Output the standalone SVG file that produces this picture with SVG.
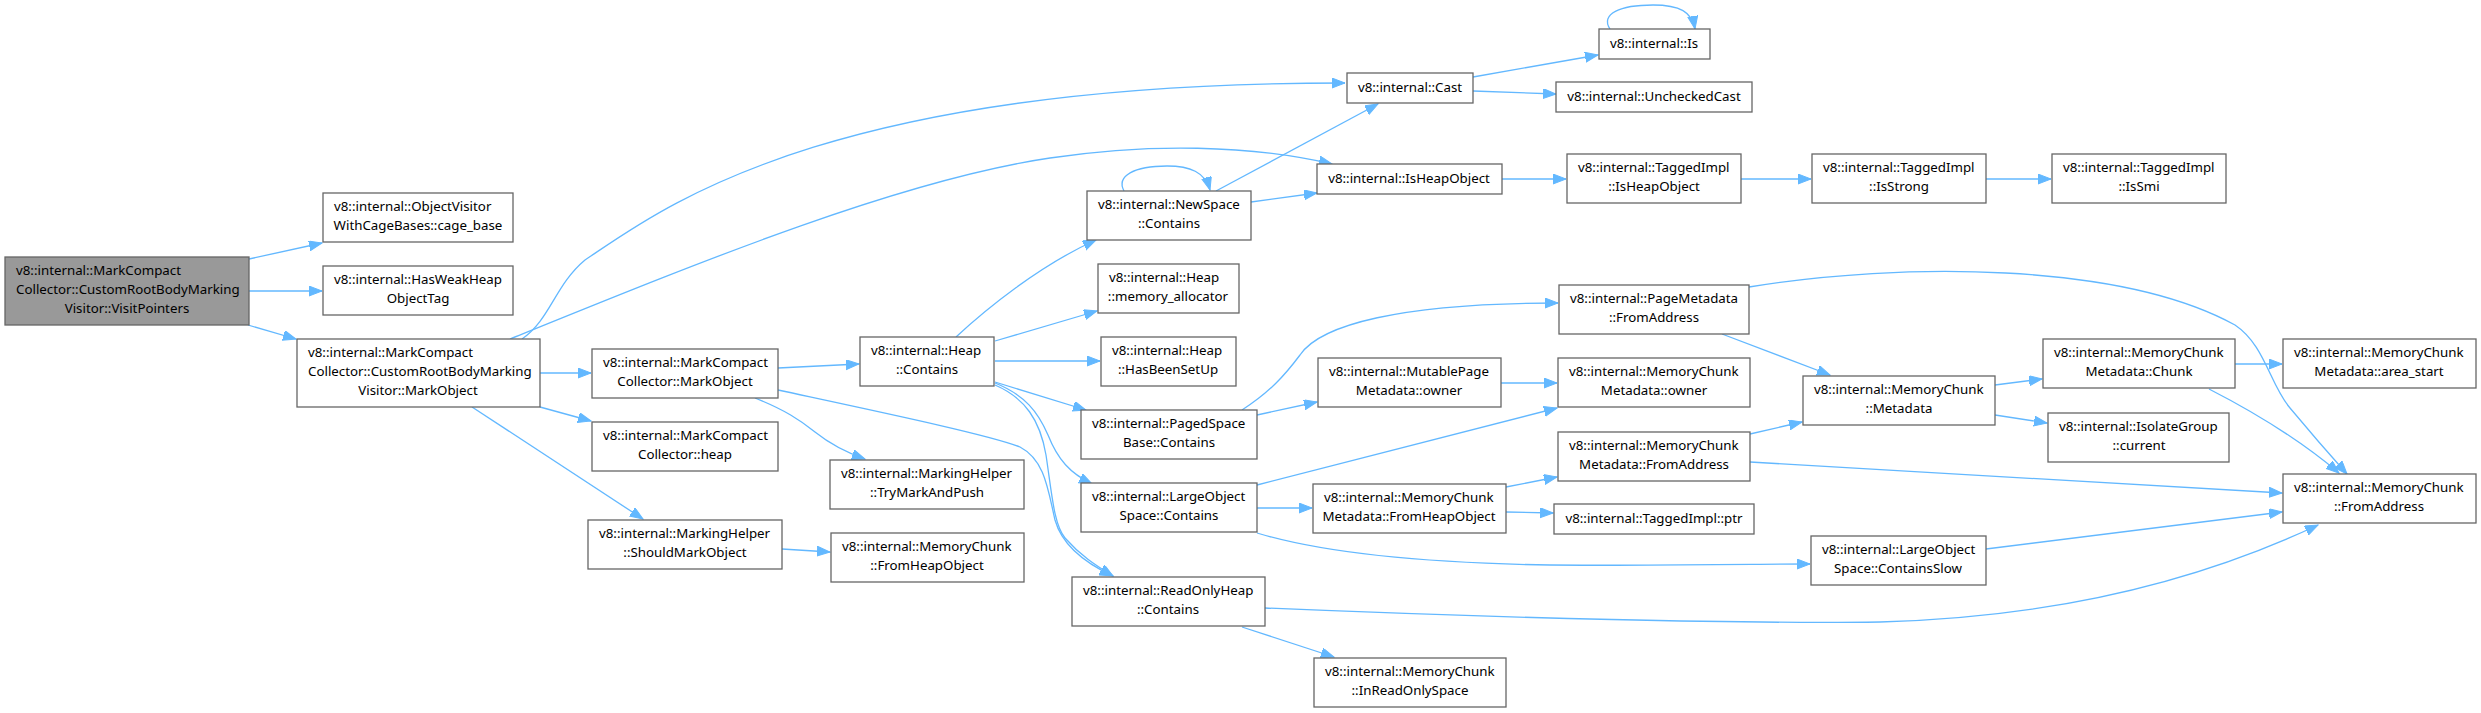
<svg xmlns="http://www.w3.org/2000/svg" width="2481" height="713" viewBox="0 0 2481 713">
<style>
.n rect{fill:#ffffff;stroke:#666666;stroke-width:1.3}
.root rect{fill:#999999;stroke:#666666;stroke-width:1.3}
text{font-family:"Noto Sans","DejaVu Sans",sans-serif;font-size:13.3px;fill:#000}
.s{text-anchor:start}
.m{text-anchor:middle}
#edges path{fill:none;stroke:#63b8ff;stroke-width:1.3;marker-end:url(#ah)}
</style>
<defs>
<marker id="ah" markerUnits="userSpaceOnUse" markerWidth="14" markerHeight="11" refX="13" refY="5" orient="auto">
<path d="M0,0 L13,5 L0,10 z" fill="#63b8ff" stroke="#63b8ff" stroke-width="1"/>
</marker>
</defs>
<rect width="2481" height="713" fill="#ffffff"/>
<g id="edges">
<path d="M249,259 L322,243"/>
<path d="M249,291 L322,291"/>
<path d="M248,325 L296,339"/>
<path d="M522,339 C550,320 555,285 585,260 C660,210 820,83 1345,83"/>
<path d="M510,339 C700,262 900,180 1050,158 C1150,143 1250,145 1332,164"/>
<path d="M540,373 L591,373"/>
<path d="M540,407 L591,421"/>
<path d="M472,407 L643,519"/>
<path d="M778,368 L859,364"/>
<path d="M755,398 C785,410 800,420 815,432 C830,444 845,452 865,459"/>
<path d="M778,390 C880,412 990,435 1020,447 C1045,460 1048,490 1055,520 C1062,545 1085,563 1113,576"/>
<path d="M782,549 L830,552"/>
<path d="M956,337 C985,310 1040,265 1096,240"/>
<path d="M995,341 L1097,311"/>
<path d="M995,361 L1100,361"/>
<path d="M995,382 L1086,410"/>
<path d="M995,383 C1025,395 1038,412 1048,435 C1058,460 1070,473 1092,484"/>
<path d="M995,385 C1025,398 1040,420 1046,455 C1052,495 1054,525 1065,538 C1080,555 1095,565 1113,576"/>
<path d="M1124,191 C1116,176 1134,166 1167,166 C1190,166 1205,172 1210,190"/>
<path d="M1216,191 L1378,104"/>
<path d="M1251,202 L1317,193"/>
<path d="M1473,77 L1598,55"/>
<path d="M1473,91 L1556,94"/>
<path d="M1610,29 C1600,14 1620,5 1653,5 C1680,5 1692,12 1695,29"/>
<path d="M1502,179 L1566,179"/>
<path d="M1741,179 L1811,179"/>
<path d="M1986,179 L2051,179"/>
<path d="M1242,410 C1270,392 1285,375 1300,355 C1320,325 1400,303 1558,303"/>
<path d="M1257,415 L1317,402"/>
<path d="M1501,383 L1557,383"/>
<path d="M1257,485 L1557,408"/>
<path d="M1257,508 L1312,508"/>
<path d="M1257,533 C1320,552 1420,563 1550,565 C1680,566 1760,564 1810,564"/>
<path d="M1506,487 L1557,477"/>
<path d="M1506,512 L1553,513"/>
<path d="M1750,434 L1802,422"/>
<path d="M1750,462 L2282,493"/>
<path d="M1722,334 L1830,375"/>
<path d="M1749,287 C1900,262 2120,262 2235,325 C2265,345 2270,385 2290,408 C2310,432 2330,455 2347,474"/>
<path d="M1995,385 L2042,379"/>
<path d="M1995,415 L2047,423"/>
<path d="M2235,364 L2282,364"/>
<path d="M2209,389 C2250,410 2300,440 2339,473"/>
<path d="M1986,549 L2282,512"/>
<path d="M1265,608 C1500,618 1750,624 1880,622 C2030,618 2180,590 2318,525"/>
<path d="M1242,627 L1334,657"/>
</g>
<g id="n_root" class="root"><rect x="5" y="257" width="244" height="68"/><text class="s" x="16" y="275">v8::internal::MarkCompact</text><text class="s" x="16" y="294">Collector::CustomRootBodyMarking</text><text class="m" x="127" y="313">Visitor::VisitPointers</text></g>
<g id="n_cage_base" class="n"><rect x="323" y="193" width="190" height="49"/><text class="s" x="334" y="211">v8::internal::ObjectVisitor</text><text class="m" x="418" y="230">WithCageBases::cage_base</text></g>
<g id="n_hasweak" class="n"><rect x="323" y="266" width="190" height="49"/><text class="s" x="334" y="284">v8::internal::HasWeakHeap</text><text class="m" x="418" y="303">ObjectTag</text></g>
<g id="n_markobject_v" class="n"><rect x="297" y="339" width="243" height="68"/><text class="s" x="308" y="357">v8::internal::MarkCompact</text><text class="s" x="308" y="376">Collector::CustomRootBodyMarking</text><text class="m" x="418" y="395">Visitor::MarkObject</text></g>
<g id="n_mcc_markobject" class="n"><rect x="592" y="349" width="186" height="49"/><text class="s" x="603" y="367">v8::internal::MarkCompact</text><text class="m" x="685" y="386">Collector::MarkObject</text></g>
<g id="n_mcc_heap" class="n"><rect x="592" y="422" width="186" height="49"/><text class="s" x="603" y="440">v8::internal::MarkCompact</text><text class="m" x="685" y="459">Collector::heap</text></g>
<g id="n_should_mark" class="n"><rect x="588" y="520" width="194" height="49"/><text class="s" x="599" y="538">v8::internal::MarkingHelper</text><text class="m" x="685" y="557">::ShouldMarkObject</text></g>
<g id="n_heap_contains" class="n"><rect x="860" y="337" width="134" height="49"/><text class="s" x="871" y="355">v8::internal::Heap</text><text class="m" x="927" y="374">::Contains</text></g>
<g id="n_try_mark" class="n"><rect x="830" y="460" width="194" height="49"/><text class="s" x="841" y="478">v8::internal::MarkingHelper</text><text class="m" x="927" y="497">::TryMarkAndPush</text></g>
<g id="n_mc_fromheapobject" class="n"><rect x="831" y="533" width="193" height="49"/><text class="s" x="842" y="551">v8::internal::MemoryChunk</text><text class="m" x="927" y="570">::FromHeapObject</text></g>
<g id="n_newspace_contains" class="n"><rect x="1087" y="191" width="164" height="49"/><text class="s" x="1098" y="209">v8::internal::NewSpace</text><text class="m" x="1169" y="228">::Contains</text></g>
<g id="n_memory_allocator" class="n"><rect x="1098" y="264" width="141" height="49"/><text class="s" x="1109" y="282">v8::internal::Heap</text><text class="m" x="1168" y="301">::memory_allocator</text></g>
<g id="n_hasbeensetup" class="n"><rect x="1101" y="337" width="135" height="49"/><text class="s" x="1112" y="355">v8::internal::Heap</text><text class="m" x="1168" y="374">::HasBeenSetUp</text></g>
<g id="n_paged_contains" class="n"><rect x="1081" y="410" width="176" height="49"/><text class="s" x="1092" y="428">v8::internal::PagedSpace</text><text class="m" x="1169" y="447">Base::Contains</text></g>
<g id="n_large_contains" class="n"><rect x="1081" y="483" width="176" height="49"/><text class="s" x="1092" y="501">v8::internal::LargeObject</text><text class="m" x="1169" y="520">Space::Contains</text></g>
<g id="n_readonly_contains" class="n"><rect x="1072" y="577" width="193" height="49"/><text class="s" x="1083" y="595">v8::internal::ReadOnlyHeap</text><text class="m" x="1168" y="614">::Contains</text></g>
<g id="n_cast" class="n"><rect x="1347" y="73" width="126" height="30"/><text class="m" x="1410" y="92">v8::internal::Cast</text></g>
<g id="n_is" class="n"><rect x="1599" y="29" width="111" height="30"/><text class="m" x="1654" y="48">v8::internal::Is</text></g>
<g id="n_unchecked" class="n"><rect x="1556" y="82" width="196" height="30"/><text class="m" x="1654" y="101">v8::internal::UncheckedCast</text></g>
<g id="n_isheapobject" class="n"><rect x="1317" y="164" width="185" height="30"/><text class="m" x="1409" y="183">v8::internal::IsHeapObject</text></g>
<g id="n_tagged_isheapobject" class="n"><rect x="1567" y="154" width="174" height="49"/><text class="s" x="1578" y="172">v8::internal::TaggedImpl</text><text class="m" x="1654" y="191">::IsHeapObject</text></g>
<g id="n_isstrong" class="n"><rect x="1812" y="154" width="174" height="49"/><text class="s" x="1823" y="172">v8::internal::TaggedImpl</text><text class="m" x="1899" y="191">::IsStrong</text></g>
<g id="n_issmi" class="n"><rect x="2052" y="154" width="174" height="49"/><text class="s" x="2063" y="172">v8::internal::TaggedImpl</text><text class="m" x="2139" y="191">::IsSmi</text></g>
<g id="n_pagemeta_fromaddress" class="n"><rect x="1559" y="285" width="190" height="49"/><text class="s" x="1570" y="303">v8::internal::PageMetadata</text><text class="m" x="1654" y="322">::FromAddress</text></g>
<g id="n_mutablepage_owner" class="n"><rect x="1318" y="358" width="183" height="49"/><text class="s" x="1329" y="376">v8::internal::MutablePage</text><text class="m" x="1409" y="395">Metadata::owner</text></g>
<g id="n_mcm_owner" class="n"><rect x="1558" y="358" width="192" height="49"/><text class="s" x="1569" y="376">v8::internal::MemoryChunk</text><text class="m" x="1654" y="395">Metadata::owner</text></g>
<g id="n_mcm_fromaddress" class="n"><rect x="1558" y="432" width="192" height="49"/><text class="s" x="1569" y="450">v8::internal::MemoryChunk</text><text class="m" x="1654" y="469">Metadata::FromAddress</text></g>
<g id="n_mcm_fromheapobject" class="n"><rect x="1313" y="484" width="193" height="49"/><text class="s" x="1324" y="502">v8::internal::MemoryChunk</text><text class="m" x="1409" y="521">Metadata::FromHeapObject</text></g>
<g id="n_tagged_ptr" class="n"><rect x="1554" y="504" width="200" height="30"/><text class="m" x="1654" y="523">v8::internal::TaggedImpl::ptr</text></g>
<g id="n_containsslow" class="n"><rect x="1811" y="536" width="175" height="49"/><text class="s" x="1822" y="554">v8::internal::LargeObject</text><text class="m" x="1898" y="573">Space::ContainsSlow</text></g>
<g id="n_inreadonly" class="n"><rect x="1314" y="658" width="192" height="49"/><text class="s" x="1325" y="676">v8::internal::MemoryChunk</text><text class="m" x="1410" y="695">::InReadOnlySpace</text></g>
<g id="n_mc_metadata" class="n"><rect x="1803" y="376" width="192" height="49"/><text class="s" x="1814" y="394">v8::internal::MemoryChunk</text><text class="m" x="1899" y="413">::Metadata</text></g>
<g id="n_mcm_chunk" class="n"><rect x="2043" y="339" width="192" height="49"/><text class="s" x="2054" y="357">v8::internal::MemoryChunk</text><text class="m" x="2139" y="376">Metadata::Chunk</text></g>
<g id="n_area_start" class="n"><rect x="2283" y="339" width="193" height="49"/><text class="s" x="2294" y="357">v8::internal::MemoryChunk</text><text class="m" x="2379" y="376">Metadata::area_start</text></g>
<g id="n_isolate_current" class="n"><rect x="2048" y="413" width="181" height="49"/><text class="s" x="2059" y="431">v8::internal::IsolateGroup</text><text class="m" x="2139" y="450">::current</text></g>
<g id="n_mc_fromaddress" class="n"><rect x="2283" y="474" width="193" height="49"/><text class="s" x="2294" y="492">v8::internal::MemoryChunk</text><text class="m" x="2379" y="511">::FromAddress</text></g>
</svg>
